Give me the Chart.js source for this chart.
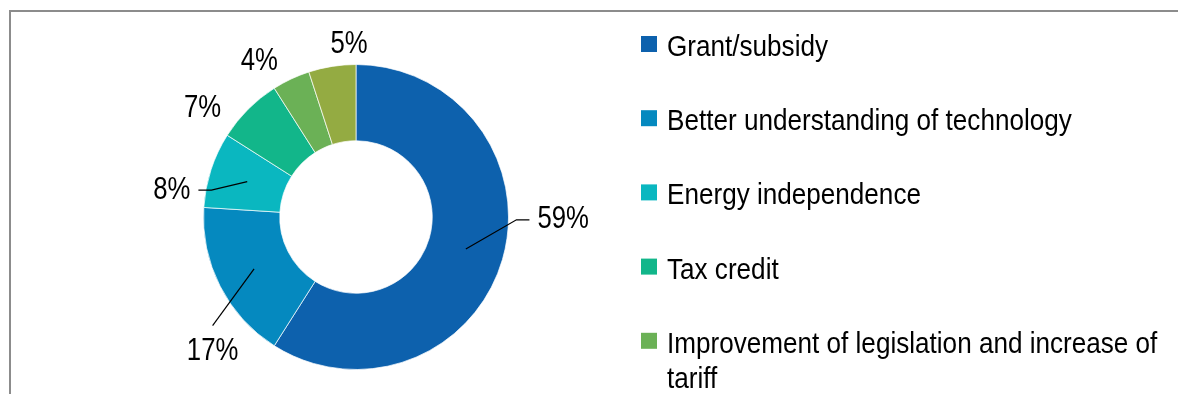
<!DOCTYPE html>
<html>
<head>
<meta charset="utf-8">
<title>Incentives</title>
<script src="https://cdn.jsdelivr.net/npm/chart.js@4.4.1/dist/chart.umd.min.js"></script>
<style>
  html, body { margin: 0; padding: 0; background: #fff; }
  #wrap { position: relative; width: 1178px; height: 394px; }
</style>
</head>
<body>
<div id="wrap"><canvas id="incentivesChart"></canvas></div>
<script>
var categories = [
  'Grant/subsidy',
  'Better understanding of technology',
  'Energy independence',
  'Tax credit',
  'Improvement of legislation and increase of tariff',
  'Other'
];
var shares = [59, 17, 8, 7, 4, 5];
var percentLabels = ['59%', '17%', '8%', '7%', '4%', '5%'];
var sliceColours = ['#0d61ad', '#0589bf', '#0ab7c0', '#12b68a', '#6bb156', '#94ab42'];

// where each percentage sits: angle clockwise from 12 o'clock and
// distance as a multiple of the outer radius
var labelSpots = [
  { angle: 90.9,  dist: 1.19,  align: 'left',   leader: 'elbow' },
  { angle: 226.8, dist: 1.29,  align: 'center', leader: 'down' },
  { angle: 279.2, dist: 1.10,  align: 'right',  leader: 'elbow' },
  { angle: 305.3, dist: 1.233, align: 'center', leader: null },
  { angle: 328.1, dist: 1.20,  align: 'center', leader: null },
  { angle: 357.7, dist: 1.135, align: 'center', leader: null }
];

var FONT = '"Liberation Sans", Arial, sans-serif';

function squeezedText(ctx, text, x, y, align, size, squeeze) {
  ctx.save();
  ctx.translate(x, y);
  ctx.scale(squeeze, 1);
  ctx.font = size + 'px ' + FONT;
  ctx.textAlign = align;
  ctx.fillText(text, 0, 0);
  ctx.restore();
}

// grey frame along the top and left edge
var framePlugin = {
  id: 'frame',
  beforeDraw: function(chart) {
    var ctx = chart.ctx;
    ctx.save();
    ctx.strokeStyle = '#8c8c8c';
    ctx.lineWidth = 2;
    ctx.beginPath();
    ctx.moveTo(chart.width, 11);
    ctx.lineTo(10, 11);
    ctx.lineTo(10, chart.height);
    ctx.stroke();
    ctx.restore();
  }
};

// percentage labels with leader lines
var percentPlugin = {
  id: 'percentLabels',
  afterDatasetsDraw: function(chart) {
    var ctx = chart.ctx;
    var meta = chart.getDatasetMeta(0);
    ctx.save();
    ctx.fillStyle = '#000';
    ctx.strokeStyle = '#000';
    ctx.lineWidth = 1.2;
    ctx.textBaseline = 'middle';
    meta.data.forEach(function(arc, i) {
      var p = arc.getProps(['x', 'y', 'startAngle', 'endAngle', 'innerRadius', 'outerRadius'], true);
      var spot = labelSpots[i];
      var a = (spot.angle - 90) * Math.PI / 180;
      var lx = p.x + Math.cos(a) * spot.dist * p.outerRadius;
      var ly = p.y + Math.sin(a) * spot.dist * p.outerRadius;

      if (spot.leader) {
        var mid = (p.startAngle + p.endAngle) / 2;
        var ringR = (p.innerRadius + p.outerRadius) / 2;
        var sx = p.x + Math.cos(mid) * ringR;
        var sy = p.y + Math.sin(mid) * ringR;
        ctx.beginPath();
        ctx.moveTo(sx, sy);
        if (spot.leader === 'elbow') {
          var dir = spot.align === 'left' ? -1 : 1;
          ctx.lineTo(lx + dir * 21, ly);
          ctx.lineTo(lx + dir * 8, ly);
        } else {
          ctx.lineTo(lx, ly - 26);
        }
        ctx.stroke();
      }
      squeezedText(ctx, percentLabels[i], lx, ly, spot.align, 31, 0.83);
    });
    ctx.restore();
  }
};

// legend on the right, long entries wrap onto a second line
var legendPlugin = {
  id: 'sideLegend',
  afterDraw: function(chart) {
    var ctx = chart.ctx;
    var boxX = 641, textX = 667, firstBase = 56, rowStep = 74.2, lineStep = 35;
    var size = 29, squeeze = 0.9;
    var maxW = chart.width - textX - 6;
    ctx.save();
    ctx.textBaseline = 'alphabetic';
    ctx.font = size + 'px ' + FONT;
    categories.forEach(function(name, i) {
      var base = firstBase + i * rowStep;
      ctx.fillStyle = sliceColours[i];
      ctx.fillRect(boxX, base - 20, 16, 16);

      var words = name.split(' ');
      var lines = [];
      var line = '';
      words.forEach(function(w) {
        var test = line ? line + ' ' + w : w;
        if (ctx.measureText(test).width * squeeze > maxW && line) {
          lines.push(line);
          line = w;
        } else {
          line = test;
        }
      });
      lines.push(line);

      ctx.fillStyle = '#000';
      lines.forEach(function(l, k) {
        squeezedText(ctx, l, textX, base + k * lineStep, 'left', size, squeeze);
      });
    });
    ctx.restore();
  }
};

var ctx = document.getElementById('incentivesChart');

var incentivesChart = new Chart(ctx, {
  type: 'doughnut',
  data: {
    labels: categories,
    datasets: [{
      data: shares,
      backgroundColor: sliceColours,
      borderColor: 'rgba(255,255,255,0.7)',
      borderWidth: 1,
      hoverOffset: 0
    }]
  },
  options: {
    responsive: true,
    maintainAspectRatio: false,
    animation: false,
    cutout: '50%',
    layout: { padding: { left: 203, right: 669, top: 63, bottom: 23 } },
    plugins: {
      legend: { display: false },
      tooltip: { enabled: false }
    }
  },
  plugins: [framePlugin, percentPlugin, legendPlugin]
});
</script>
</body>
</html>
